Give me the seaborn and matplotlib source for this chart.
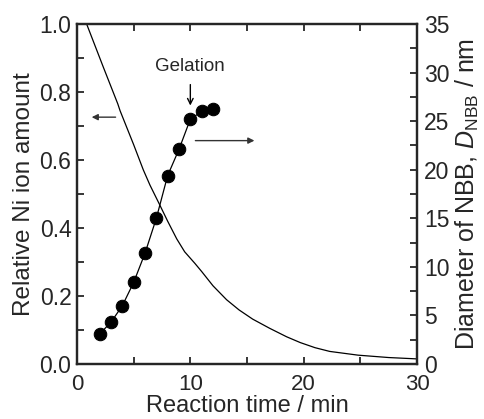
import numpy as np
import pandas as pd
import matplotlib
matplotlib.use("Agg")
import matplotlib.pyplot as plt
from matplotlib.ticker import MultipleLocator, FormatStrFormatter
import seaborn as sns

# Relative Ni ion amount (left axis)
ni_time = [0, 0.85, 2.3, 3.6, 3.8, 5.0, 5.85, 6.44, 7.3, 8.0, 8.8, 9.5, 10.4, 11.0,
           12.0, 13.2, 14.3, 15.5, 17.0, 18.5, 19.7, 21.0, 22.3, 24.8, 27.5, 30.0]
ni_amount = [1.075, 1.0, 0.875, 0.765, 0.745, 0.645, 0.571, 0.526, 0.468, 0.42, 0.368,
             0.33, 0.296, 0.272, 0.23, 0.189, 0.159, 0.132, 0.105, 0.08, 0.063, 0.048,
             0.037, 0.026, 0.019, 0.015]

# Diameter of NBB (right axis)
d_time = [2, 3, 4, 5, 6, 7, 8, 9, 10, 11, 12]
d_nbb = [3.1, 4.3, 6.0, 8.4, 11.4, 15.0, 19.4, 22.1, 25.2, 26.0, 26.3]

sns.set_style("ticks")
plt.rcParams['font.family'] = ['Liberation Sans', 'DejaVu Sans']
plt.rcParams['mathtext.fontset'] = 'custom'
plt.rcParams['mathtext.rm'] = 'Liberation Sans'
plt.rcParams['mathtext.it'] = 'Liberation Sans:italic'

fig = plt.figure(figsize=(4.84, 4.19), dpi=100)
ax = fig.add_axes([77/484, 55/419, 340/484, 340/419])
ax2 = ax.twinx()

df_ni = pd.DataFrame({"t": ni_time, "v": ni_amount})
df_d = pd.DataFrame({"t": d_time, "v": d_nbb})

sns.lineplot(data=df_ni, x="t", y="v", ax=ax, color="black", linewidth=0.9)
sns.lineplot(data=df_d, x="t", y="v", ax=ax2, color="black", linewidth=0.9,
             marker="o", markersize=9, markeredgecolor="black", markerfacecolor="black")

ax.set_xlim(0, 30)
ax.set_ylim(0, 1.0)
ax2.set_ylim(0, 35)

ax.xaxis.set_major_locator(MultipleLocator(10))
ax.xaxis.set_minor_locator(MultipleLocator(5))
ax.yaxis.set_major_locator(MultipleLocator(0.2))
ax.yaxis.set_minor_locator(MultipleLocator(0.1))
ax.yaxis.set_major_formatter(FormatStrFormatter("%.1f"))
ax2.yaxis.set_major_locator(MultipleLocator(5))
ax2.yaxis.set_minor_locator(MultipleLocator(2.5))

for a in (ax, ax2):
    a.tick_params(which="both", direction="in", length=5, width=1.3, labelsize=16.5, pad=4)
    for s in a.spines.values():
        s.set_linewidth(1.6)
ax.tick_params(which="both", top=True, right=False)
ax.tick_params(axis="x", which="both", pad=7, labelsize=16)
ax2.tick_params(which="both", left=False, right=True, pad=5)

ax.set_xlabel("Reaction time / min", fontsize=17, labelpad=0)
ax.set_ylabel("Relative Ni ion amount", fontsize=17.5, labelpad=3)
ax2.set_ylabel(r"Diameter of NBB, $D_{\mathrm{NBB}}$ / nm", fontsize=18, labelpad=3)

# annotations
ax.annotate("", xy=(1.05, 0.726), xytext=(3.65, 0.726),
            arrowprops=dict(arrowstyle="-|>", color="#333333", lw=1.0, mutation_scale=9))
ax.annotate("", xy=(15.9, 0.657), xytext=(10.2, 0.657),
            arrowprops=dict(arrowstyle="-|>", color="#333333", lw=1.0, mutation_scale=9))
ax.annotate("", xy=(10.0, 0.752), xytext=(10.0, 0.83),
            arrowprops=dict(arrowstyle="->", color="black", lw=1.0, mutation_scale=10))
ax.text(10.0, 0.875, "Gelation", ha="center", va="center", fontsize=13.5)

fig.savefig("out.png", dpi=100)
